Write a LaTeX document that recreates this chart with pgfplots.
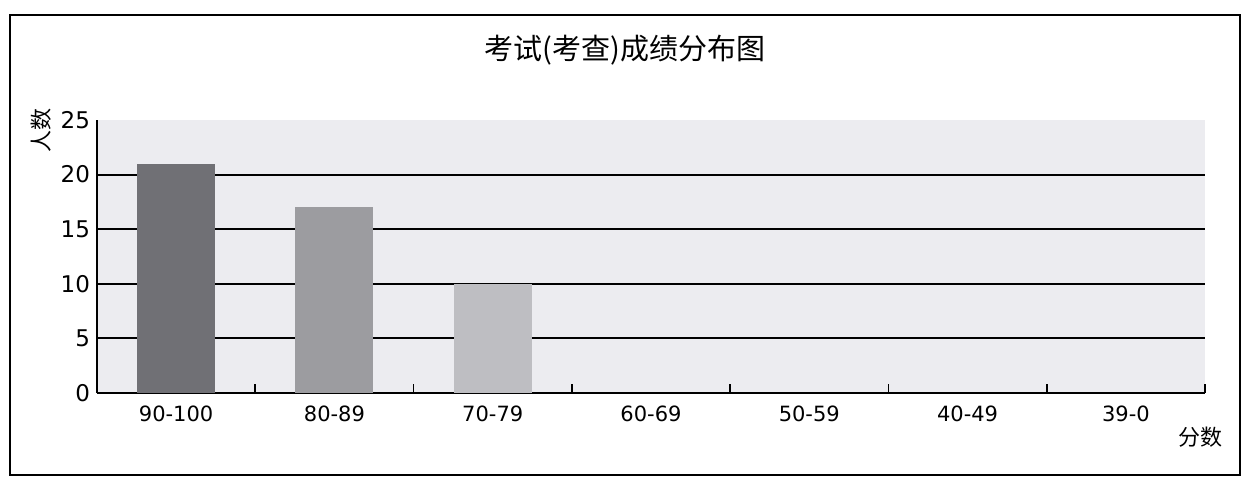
\documentclass[border=0pt]{standalone}
\usepackage{fontspec}
\setmainfont{DejaVu Sans}
\newfontfamily\cjk{Noto Sans CJK SC}
\usepackage{pgfplots}
\pgfplotsset{compat=1.18}
\definecolor{barA}{RGB}{112,112,117}
\definecolor{barB}{RGB}{156,156,160}
\definecolor{barC}{RGB}{190,190,194}
\definecolor{plotbg}{RGB}{236,236,240}
\begin{document}
\begin{tikzpicture}
\path (-48.5pt,-44.5pt) rectangle (577.5pt,196.5pt);
\draw[line width=0.8pt] (-43.5pt,-41pt) rectangle (571.5pt,189pt);
\begin{axis}[
    scale only axis,
    width=554pt, height=136.5pt,
    ybar, bar width=39pt, bar shift=0pt,
    xmin=-0.5, xmax=6.5,
    ymin=0, ymax=25,
    xtick={0,...,6},
    xticklabels={90-100,80-89,70-79,60-69,50-59,40-49,39-0},
    minor xtick={0.5,1.5,...,6.5},
    major x tick style={draw=none},
    minor tick length=4.5pt,
    tick align=inside,
    ytick={0,5,...,25},
    ytick style={draw=none},
    extra y ticks={5,10,15,20},
    extra y tick labels={},
    extra y tick style={grid=major},
    major grid style={black, line width=1pt},
    axis x line*=bottom, axis y line*=left,
    axis line style={line width=0.9pt},
    every tick/.style={black, line width=0.9pt},
    axis background/.style={fill=plotbg},
    xticklabel style={font=\fontsize{10.5}{12}\selectfont, yshift=-3pt},
    yticklabel style={font=\fontsize{11.5}{13}\selectfont},
    /pgf/number format/assume math mode=true,
    title={\cjk 考试(考查)成绩分布图},
    title style={font=\fontsize{14.5}{16}\selectfont, at={(axis description cs:0.4765,1)}, anchor=center, yshift=29pt},
    ylabel={\cjk 人数},
    ylabel style={font=\fontsize{11}{13}\selectfont, at={(axis description cs:-0.05,0.963)}, anchor=center},
    xlabel={\cjk 分数},
    xlabel style={font=\fontsize{11}{13}\selectfont, at={(axis description cs:0.9955,-0.161)}, anchor=center},
]
\addplot[fill=barA, draw=none] coordinates {(0,21)};
\addplot[fill=barB, draw=none] coordinates {(1,17)};
\addplot[fill=barC, draw=none] coordinates {(2,10)};
\end{axis}
\end{tikzpicture}
\end{document}
